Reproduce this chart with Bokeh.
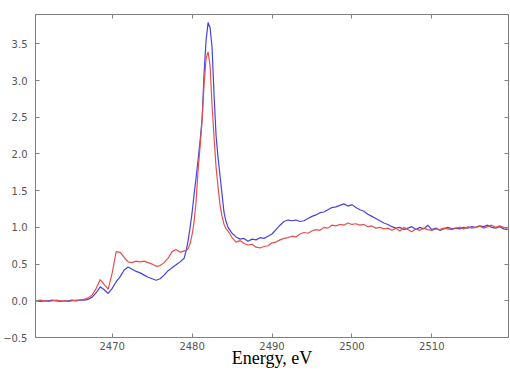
import numpy as np
from bokeh.plotting import figure
from bokeh.models import Range1d, LinearAxis, SingleIntervalTicker, CustomJSTickFormatter
from bokeh.embed import file_html
from bokeh.resources import INLINE

# Energy sampling grid (eV)
energy = np.concatenate([
    np.arange(2460.5, 2479.0, 0.5),
    np.arange(2479.0, 2485.0, 0.25),
    np.arange(2485.0, 2520.0, 0.5),
])

red_mu = [
    # 2460.5 .. 2478.5 step 0.5
    0.00, 0.01, 0.00, -0.01, 0.00, 0.01, 0.00, 0.00, -0.01, 0.00,
    0.01, 0.01, 0.02, 0.04, 0.08, 0.17, 0.29, 0.22, 0.16, 0.38,
    0.67, 0.66, 0.59, 0.53, 0.52, 0.54, 0.53, 0.54, 0.52, 0.50,
    0.47, 0.48, 0.52, 0.58, 0.67, 0.70, 0.66,
    # 2479 .. 2484.75 step 0.25
    0.68, 0.69, 0.71, 0.78, 0.90, 1.08, 1.35, 1.78, 2.10, 2.45,
    2.95, 3.30, 3.39, 3.20, 2.65, 2.22, 1.82, 1.55, 1.30, 1.15,
    1.04, 0.98, 0.95, 0.91,
    # 2485 .. 2519.5 step 0.5
    0.86, 0.80, 0.82, 0.78, 0.76, 0.77, 0.73, 0.72, 0.74, 0.75,
    0.79, 0.80, 0.83, 0.85, 0.86, 0.88, 0.87, 0.91, 0.93, 0.92,
    0.95, 0.97, 0.96, 1.00, 0.99, 1.03, 1.02, 1.04, 1.03, 1.06,
    1.04, 1.05, 1.03, 1.04, 1.01, 1.02, 0.99, 1.00, 0.98, 0.99,
    0.96, 0.99, 0.95, 1.00, 0.97, 0.94, 0.98, 0.96, 0.99, 0.97,
    0.96, 0.98, 0.97, 0.99, 0.98, 0.97, 0.99, 1.00, 0.98, 1.01,
    0.99, 1.00, 1.02, 0.99, 1.01, 1.03, 1.00, 1.02, 1.00, 0.99,
]

blue_mu = [
    # 2460.5 .. 2478.5 step 0.5
    0.00, -0.01, 0.00, 0.00, 0.01, 0.00, -0.01, 0.00, 0.00, 0.01,
    0.00, 0.01, 0.01, 0.02, 0.05, 0.11, 0.19, 0.15, 0.10, 0.17,
    0.26, 0.33, 0.42, 0.46, 0.43, 0.40, 0.38, 0.35, 0.32, 0.30,
    0.28, 0.30, 0.35, 0.41, 0.45, 0.49, 0.53,
    # 2479 .. 2484.75 step 0.25
    0.58, 0.68, 0.82, 1.00, 1.20, 1.45, 1.68, 1.92, 2.18, 2.48,
    3.10, 3.55, 3.79, 3.72, 3.45, 2.80, 2.25, 1.95, 1.70, 1.45,
    1.20, 1.08, 1.00, 0.96,
    # 2485 .. 2519.5 step 0.5
    0.92, 0.87, 0.84, 0.85, 0.81, 0.84, 0.83, 0.86, 0.85, 0.88,
    0.91, 0.97, 1.03, 1.08, 1.10, 1.09, 1.10, 1.08, 1.09, 1.12,
    1.15, 1.17, 1.20, 1.21, 1.24, 1.27, 1.28, 1.30, 1.32, 1.29,
    1.31, 1.27, 1.24, 1.22, 1.18, 1.15, 1.12, 1.09, 1.06, 1.04,
    1.01, 0.99, 1.00, 0.97, 0.99, 1.01, 0.97, 1.00, 0.98, 1.03,
    0.97, 0.99, 0.96, 0.98, 1.00, 0.98, 0.99, 0.98, 1.00, 0.99,
    1.01, 1.00, 1.02, 1.01, 1.03, 1.00, 0.99, 1.01, 0.98, 0.97,
]

x_label = "Energy, eV"

p = figure(frame_width=473, frame_height=323, output_backend="svg", toolbar_location=None,
           x_range=Range1d(2460.4, 2519.6), y_range=Range1d(-0.5, 3.9),
           min_border_left=0, min_border_right=0, min_border_top=0, min_border_bottom=0)
p.styles = {"margin-top": "10px"}

p.line(energy, blue_mu, line_color="#4444dd", line_width=1.2)
p.line(energy, red_mu, line_color="#e5504f", line_width=1.2)

p.xgrid.visible = False
p.ygrid.visible = False
p.outline_line_color = "#808080"
p.background_fill_color = "white"
p.border_fill_color = "white"

fmt = CustomJSTickFormatter(code="return tick.toFixed(1).replace('-', '\u2212');")
blank = CustomJSTickFormatter(code="return '';")

p.xaxis.ticker = SingleIntervalTicker(interval=10)
p.yaxis.ticker = SingleIntervalTicker(interval=0.5)
p.yaxis.formatter = fmt
p.xaxis.axis_label = x_label
p.xaxis.axis_label_text_font = "Liberation Serif"
p.xaxis.axis_label_text_font_style = "normal"
p.xaxis.axis_label_text_font_size = "18px"
p.xaxis.axis_label_text_color = "black"
p.xaxis.axis_label_standoff = -5

for ax in [p.xaxis[0], p.yaxis[0]]:
    ax.axis_line_color = "#808080"
    ax.major_tick_in = 4
    ax.major_tick_out = 0
    ax.major_tick_line_color = "#808080"
    ax.minor_tick_line_color = None
    ax.major_label_text_font = "DejaVu Sans"
    ax.major_label_text_font_size = "10px"
    ax.major_label_text_color = "#555555"
    ax.major_label_standoff = 4
p.xaxis.major_label_standoff = 0

top = LinearAxis(ticker=SingleIntervalTicker(interval=10), formatter=blank)
right = LinearAxis(ticker=SingleIntervalTicker(interval=0.5), formatter=blank)
for ax in [top, right]:
    ax.axis_line_color = "#808080"
    ax.major_tick_in = 4
    ax.major_tick_out = 0
    ax.major_tick_line_color = "#808080"
    ax.minor_tick_line_color = None
    ax.major_label_standoff = 0
p.add_layout(top, "above")
p.add_layout(right, "right")

open("out.html", "w").write(file_html(p, INLINE))
